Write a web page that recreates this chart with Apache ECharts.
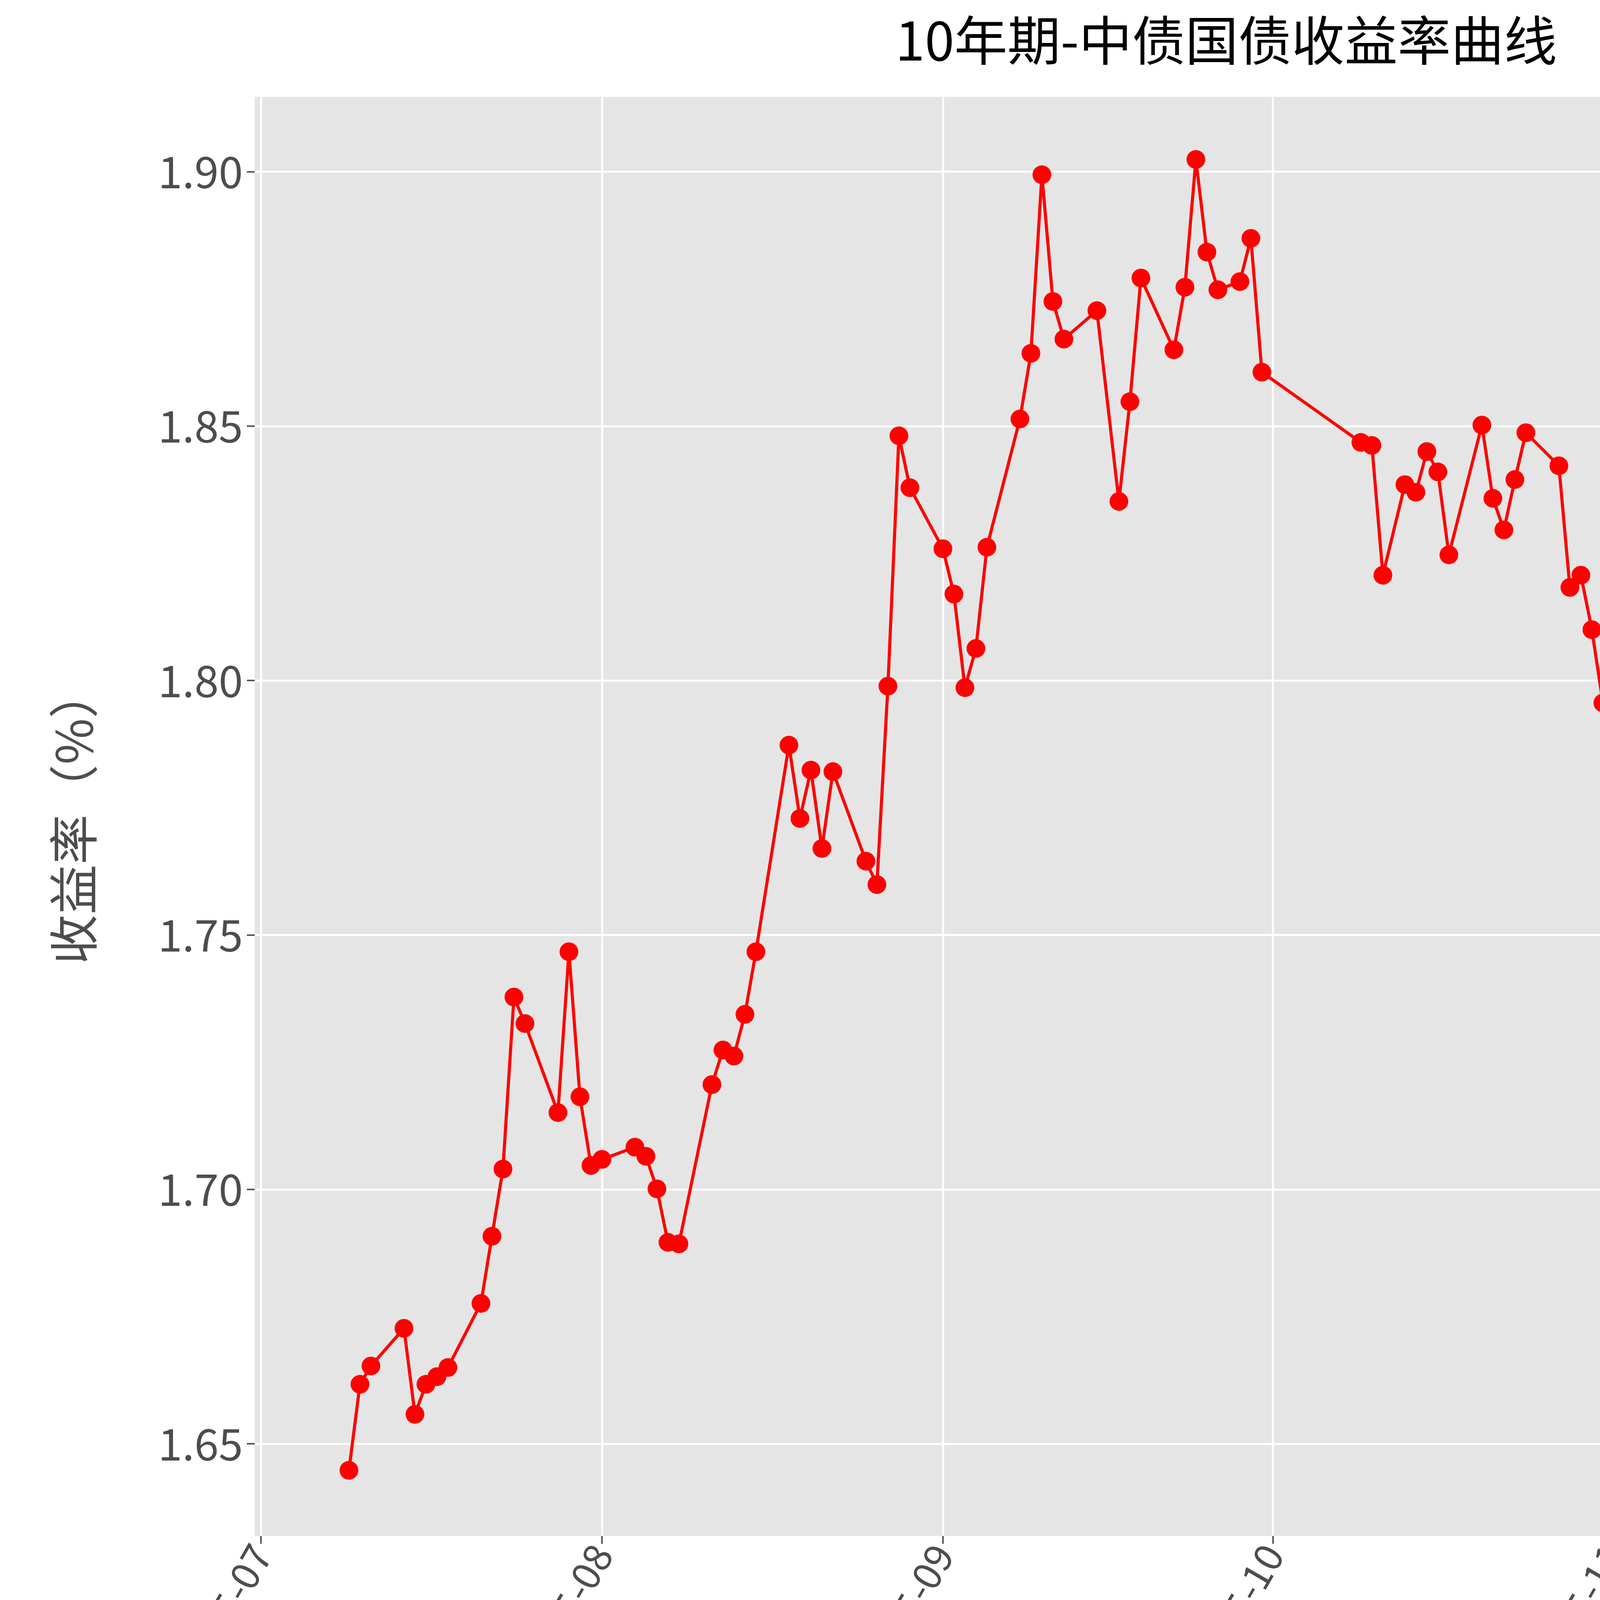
<!DOCTYPE html>
<html><head><meta charset="utf-8">
<script src="https://cdn.jsdelivr.net/npm/echarts@6/dist/echarts.min.js"></script>
<style>html,body{margin:0;padding:0;background:#fff}#c{width:6278px;height:4573px}</style>
</head><body><div id="c"></div>
<script>
const dates = ["2025-07-09","2025-07-10","2025-07-11","2025-07-14","2025-07-15","2025-07-16","2025-07-17","2025-07-18","2025-07-21","2025-07-22","2025-07-23","2025-07-24","2025-07-25","2025-07-28","2025-07-29","2025-07-30","2025-07-31","2025-08-01","2025-08-04","2025-08-05","2025-08-06","2025-08-07","2025-08-08","2025-08-11","2025-08-12","2025-08-13","2025-08-14","2025-08-15","2025-08-18","2025-08-19","2025-08-20","2025-08-21","2025-08-22","2025-08-25","2025-08-26","2025-08-27","2025-08-28","2025-08-29","2025-09-01","2025-09-02","2025-09-03","2025-09-04","2025-09-05","2025-09-08","2025-09-09","2025-09-10","2025-09-11","2025-09-12","2025-09-15","2025-09-17","2025-09-18","2025-09-19","2025-09-22","2025-09-23","2025-09-24","2025-09-25","2025-09-26","2025-09-28","2025-09-29","2025-09-30","2025-10-09","2025-10-10","2025-10-11","2025-10-13","2025-10-14","2025-10-15","2025-10-16","2025-10-17","2025-10-20","2025-10-21","2025-10-22","2025-10-23","2025-10-24","2025-10-27","2025-10-28","2025-10-29","2025-10-30","2025-10-31","2025-11-03","2025-11-04","2025-11-05","2025-11-06","2025-11-07","2025-11-10","2025-11-11","2025-11-12","2025-11-13","2025-11-14","2025-11-17","2025-11-18","2025-11-20","2025-11-21","2025-11-24","2025-11-25","2025-11-26","2025-11-27","2025-11-28","2025-12-01","2025-12-02","2025-12-03","2025-12-04","2025-12-05","2025-12-08","2025-12-09","2025-12-10","2025-12-11","2025-12-12","2025-12-15","2025-12-16","2025-12-17","2025-12-18","2025-12-19","2025-12-22","2025-12-23","2025-12-24","2025-12-25","2025-12-26","2025-12-29","2025-12-30","2025-12-31","2026-01-05","2026-01-06"];
const yields = [1.6448,1.6617,1.6653,1.6727,1.6558,1.6617,1.6632,1.6650,1.6776,1.6908,1.7040,1.7378,1.7326,1.7151,1.7467,1.7182,1.7047,1.7059,1.7083,1.7065,1.7001,1.6896,1.6893,1.7206,1.7274,1.7262,1.7344,1.7467,1.7873,1.7729,1.7824,1.7670,1.7821,1.7645,1.7599,1.7989,1.8481,1.8379,1.8259,1.8170,1.7986,1.8063,1.8262,1.8514,1.8643,1.8994,1.8745,1.8671,1.8727,1.8352,1.8548,1.8791,1.8650,1.8773,1.9024,1.8842,1.8768,1.8784,1.8869,1.8606,1.8468,1.8462,1.8207,1.8385,1.8370,1.8450,1.8410,1.8247,1.8502,1.8358,1.8296,1.8395,1.8487,1.8422,1.8183,1.8207,1.8100,1.7956,1.7947,1.7986,1.7965,1.8100,1.8143,1.8143,1.8125,1.8076,1.8131,1.8143,1.8112,1.8121,1.8140,1.8167,1.8210,1.8302,1.8465,1.8539,1.8413,1.8367,1.8444,1.8521,1.8720,1.8484,1.8499,1.8429,1.8450,1.8410,1.8401,1.8490,1.8462,1.8343,1.8358,1.8309,1.8419,1.8355,1.8358,1.8385,1.8379,1.8588,1.8585,1.8475,1.8429,1.8585];
const monthTicks = ["2025-07-01","2025-08-01","2025-09-01","2025-10-01","2025-11-01","2025-12-01","2026-01-01"];
const yTicks = [1.65,1.70,1.75,1.80,1.85,1.90];
const ts = s => new Date(s+"T00:00:00Z").getTime();
const monthTs = monthTicks.map(ts);
const FONT = "Noto Sans CJK SC";
const chart = echarts.init(document.getElementById('c'));
chart.setOption({
  animation:false,
  backgroundColor:'#fff',
  title:{text:'10年期-中债国债收益率曲线',left:'center',top:30,textStyle:{fontFamily:FONT,fontSize:136,fontWeight:'normal',color:'#000'}},
  grid:{left:652,right:74,top:248,bottom:641,backgroundColor:'#e5e5e5',show:true,borderWidth:0},
  xAxis:{type:'value',min:ts("2025-07-01")-0.57*86400000,max:ts("2026-01-13")+0.6*86400000,
    axisLine:{show:false},
    axisTick:{show:true,length:20,lineStyle:{color:'#555',width:4},customValues:monthTs},
    axisLabel:{customValues:monthTs,rotate:60,fontFamily:FONT,fontSize:100,color:'#4d4d4d',margin:30,
      formatter:v=>{const d=new Date(v);return d.getUTCFullYear()+'-'+String(d.getUTCMonth()+1).padStart(2,'0');}},
    splitLine:{show:true,lineStyle:{color:'#fff',width:5}}},
  yAxis:{type:'value',min:1.6319,max:1.9147,
    name:'收益率（%）',nameLocation:'middle',nameGap:400,nameTextStyle:{fontFamily:FONT,fontSize:128,color:'#4d4d4d'},
    axisLine:{show:false},
    axisTick:{show:true,length:20,lineStyle:{color:'#555',width:4},customValues:yTicks},
    axisLabel:{customValues:yTicks,fontFamily:FONT,fontSize:112,color:'#4d4d4d',margin:30,formatter:v=>v.toFixed(2)},
    splitLine:{show:true,lineStyle:{color:'#fff',width:5}}},
  series:[{type:'line',data:dates.map((d,i)=>[ts(d),yields[i]]),
    lineStyle:{color:'#ff0000',width:8},itemStyle:{color:'#ff0000'},
    symbol:'circle',symbolSize:48,showSymbol:true}]
});
</script></body></html>
